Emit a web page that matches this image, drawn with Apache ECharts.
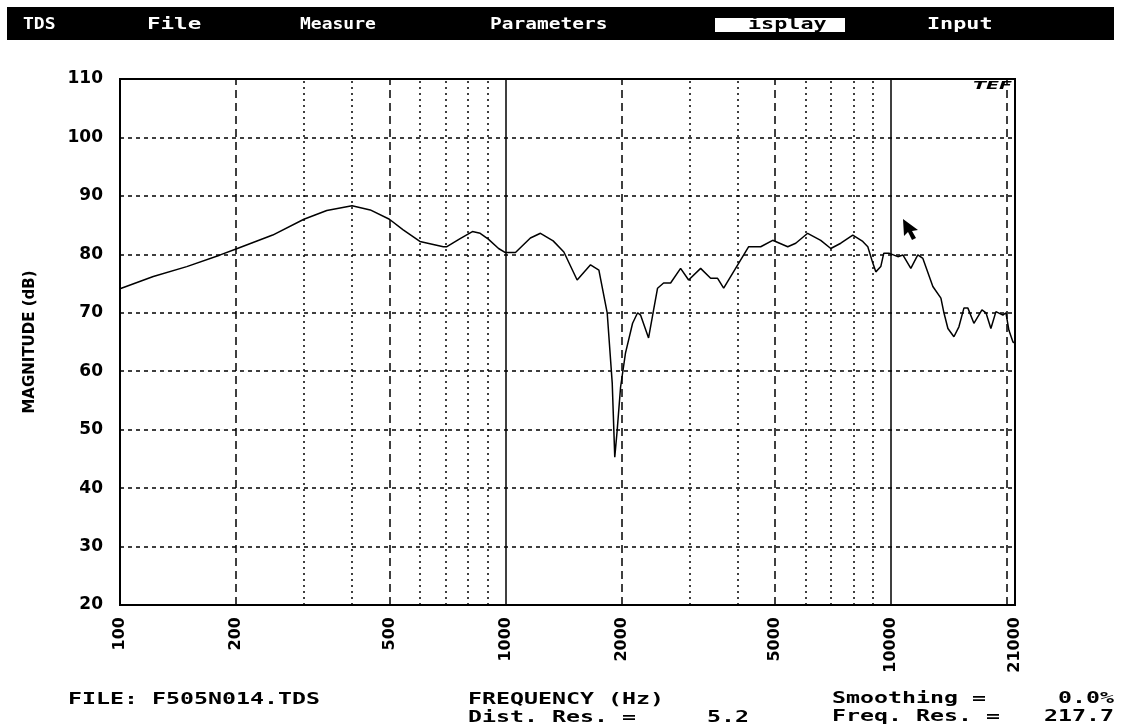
<!DOCTYPE html>
<html>
<head>
<meta charset="utf-8">
<script src="https://cdn.jsdelivr.net/npm/echarts@6/dist/echarts.min.js"></script>
<style>
html,body{margin:0;padding:0;background:#fff;}
#chart{width:1121px;height:727px;}
</style>
</head>
<body>
<div id="chart"></div>
<script>
// Frequency response data (Hz, dB)
var freqs = [100,122,149,182,200,249,300,344,400,446,500,543,600,690,705,763,821,860,903,960,1000,1062,1161,1233,1330,1418,1535,1663,1748,1837,1893,1922,1950,1990,2049,2138,2203,2242,2352,2424,2482,2573,2683,2848,2988,3210,3408,3553,3684,4006,4278,4596,4937,5402,5666,6085,6579,6986,7416,7967,8457,8716,8980,9142,9418,9590,9881,10428,10745,11270,11750,12112,12855,13489,13734,14066,14579,15020,15475,15850,16427,17236,17655,18183,18739,19537,19891,20251,20745,21000];
var magnitude = [74.1,76.2,77.9,79.9,80.9,83.3,86.0,87.5,88.3,87.6,86.0,84.2,82.2,81.3,81.3,82.7,83.9,83.6,82.6,81.0,80.3,80.3,82.8,83.6,82.3,80.4,75.6,78.2,77.3,70.0,58.0,45.3,49.9,57.3,63.1,68.2,70.0,69.6,65.7,70.5,74.2,75.1,75.1,77.6,75.6,77.6,75.9,75.9,74.2,78.2,81.3,81.3,82.4,81.3,81.9,83.6,82.4,81.0,81.9,83.3,82.2,81.3,78.5,77.0,77.9,80.2,80.2,79.6,79.9,77.6,79.9,79.3,74.5,72.5,70.0,67.3,65.9,67.6,70.8,70.8,68.2,70.5,70.0,67.3,70.2,69.6,70.0,67.0,65.0,64.8];
var xTickLabels = [100,200,500,1000,2000,5000,10000,21000];
var gridDashed = [200,500,2000,5000,20000];
var gridDotted = [300,400,600,700,800,900,3000,4000,6000,7000,8000,9000];
var gridSolid = [1000,10000];
var yMin = 20, yMax = 110, yStep = 10;
var menuItems = ['TDS','File','Measure','Parameters','isplay','Input'];

var chart = echarts.init(document.getElementById('chart'), null, {renderer:'canvas'});

var markData = [];
gridDashed.forEach(function(v){ markData.push({xAxis:v, lineStyle:{type:[8,5], width:1.5, color:'#000'}}); });
gridDotted.forEach(function(v){ markData.push({xAxis:v, lineStyle:{type:[2,4], width:1.5, color:'#000'}}); });
gridSolid.forEach(function(v){ markData.push({xAxis:v, lineStyle:{type:'solid', width:1.5, color:'#000'}}); });

var mono = '"DejaVu Sans Mono", monospace';
var menuX = [23,147,300,490,748,927];
var menuScale = [1.2,1.5,1.2,1.3,1.45,1.45];
var graphics = [
  {type:'rect', shape:{x:7,y:7,width:1107,height:33}, style:{fill:'#000'}, z:0},
  {type:'rect', shape:{x:715,y:18,width:130,height:14}, style:{fill:'#fff'}, z:1}
];
menuItems.forEach(function(t,i){
  graphics.push({type:'text', x:menuX[i], y:25, scaleX:menuScale[i], z:2,
    style:{text:t, fill: i===4 ? '#000' : '#fff', font:'bold 15px '+mono, textVerticalAlign:'middle', textAlign:'left'}});
});
var footerFont = 'bold 15px '+mono;
var fs = 1.55;
graphics.push(
  {type:'text', x:68, y:700, scaleX:fs, style:{text:'FILE: F505N014.TDS', font:footerFont, fill:'#000', textVerticalAlign:'middle'}},
  {type:'text', x:468, y:700, scaleX:fs, style:{text:'FREQUENCY (Hz)', font:footerFont, fill:'#000', textVerticalAlign:'middle'}},
  {type:'text', x:468, y:718, scaleX:fs, style:{text:'Dist. Res. =', font:footerFont, fill:'#000', textVerticalAlign:'middle'}},
  {type:'text', x:749, y:718, scaleX:fs, style:{text:'5.2', font:footerFont, fill:'#000', textVerticalAlign:'middle', textAlign:'right'}},
  {type:'text', x:832, y:699, scaleX:fs, style:{text:'Smoothing =', font:footerFont, fill:'#000', textVerticalAlign:'middle'}},
  {type:'text', x:1114, y:699, scaleX:fs, style:{text:'0.0%', font:footerFont, fill:'#000', textVerticalAlign:'middle', textAlign:'right'}},
  {type:'text', x:832, y:717, scaleX:fs, style:{text:'Freq. Res. =', font:footerFont, fill:'#000', textVerticalAlign:'middle'}},
  {type:'text', x:1114, y:717, scaleX:fs, style:{text:'217.7', font:footerFont, fill:'#000', textVerticalAlign:'middle', textAlign:'right'}},
  {type:'text', x:973, y:81, scaleX:1.9, z:10, style:{text:'TEF', font:'italic bold 10px "DejaVu Sans"', fill:'#000', textVerticalAlign:'top'}},
  {type:'polygon', shape:{points:[[903,219],[904,236],[908,232],[912,240],[916,238],[912,231],[918,230]]}, style:{fill:'#000'}}
);

chart.setOption({
  animation:false,
  backgroundColor:'#fff',
  grid:{left:120, top:79, right:106, bottom:122, show:true, borderColor:'#000', borderWidth:2, backgroundColor:'transparent'},
  xAxis:{
    type:'log', logBase:10, min:100, max:21000,
    axisLine:{show:true, lineStyle:{color:'#000', width:2}},
    axisTick:{show:false},
    splitLine:{show:false},
    axisLabel:{
      customValues: xTickLabels,
      rotate:90, margin:12, color:'#000',
      fontFamily:'DejaVu Sans', fontWeight:'bold', fontSize:16,
      formatter:function(v){ return String(Math.round(v)); }
    }
  },
  yAxis:{
    type:'value', min:yMin, max:yMax, interval:yStep,
    name:'MAGNITUDE (dB)', nameLocation:'middle', nameRotate:90, nameGap:82,
    nameTextStyle:{color:'#000', fontFamily:'DejaVu Sans', fontWeight:'bold', fontSize:15},
    axisLine:{show:true, lineStyle:{color:'#000', width:2}},
    axisTick:{show:false},
    axisLabel:{color:'#000', fontFamily:'DejaVu Sans', fontWeight:'bold', fontSize:17, margin:17},
    splitLine:{show:true, lineStyle:{color:'#000', type:[4,4], width:1.5}}
  },
  graphic:graphics,
  series:[{
    type:'line',
    data: freqs.map(function(f,i){ return [f, magnitude[i]]; }),
    symbol:'none',
    smooth:false,
    lineStyle:{color:'#000', width:1.5},
    z:3,
    markLine:{silent:true, symbol:['none','none'], label:{show:false}, data:markData, animation:false}
  }]
});
</script>
</body>
</html>
